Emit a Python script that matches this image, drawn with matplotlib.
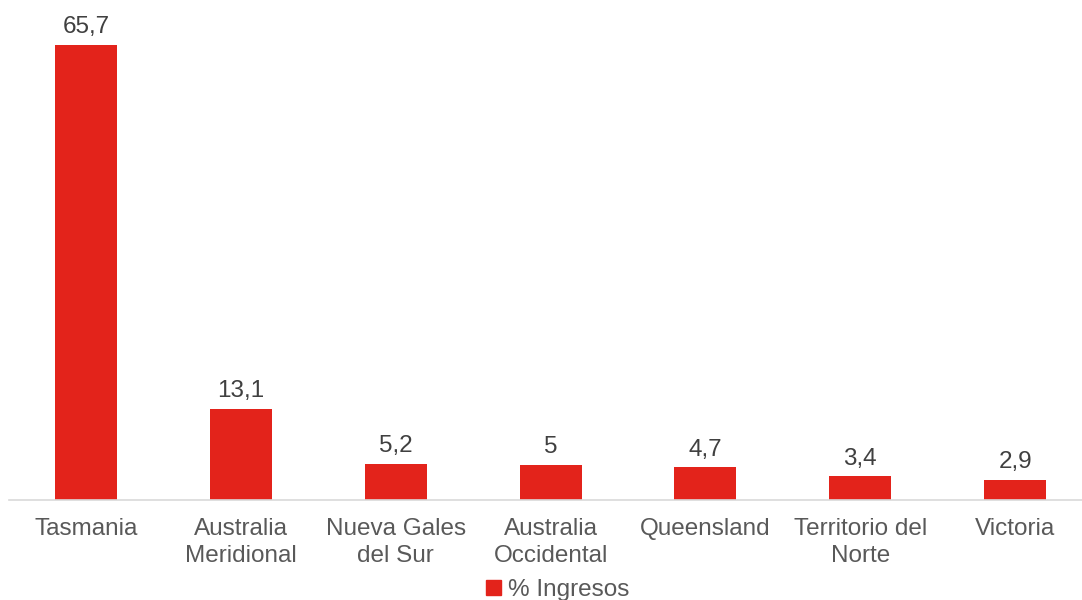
import matplotlib
matplotlib.use("Agg")
import matplotlib.pyplot as plt
from matplotlib.patches import Patch

categories = ["Tasmania", "Australia\nMeridional", "Nueva Gales\ndel Sur", "Australia\nOccidental",
              "Queensland", "Territorio del\nNorte", "Victoria"]
values = [65.7, 13.1, 5.2, 5, 4.7, 3.4, 2.9]
labels = ["65,7", "13,1", "5,2", "5", "4,7", "3,4", "2,9"]
series_name = "% Ingresos"

plt.rcParams['font.family'] = ['Liberation Sans', 'DejaVu Sans']
red = "#E3231B"

fig = plt.figure(figsize=(10.82, 6.0), dpi=100)
ax = fig.add_axes([8.6/1082, 100/600, 1084/1082, 485/600])
x = list(range(len(categories)))
bars = ax.bar(x, values, width=0.4, color=red)
ax.set_xlim(-0.5, len(categories) - 0.5)
ax.set_ylim(0, 70)
for xi, v, lab in zip(x, values, labels):
    ax.text(xi, v + 1.0, lab, ha="center", va="bottom", fontsize=17.5, color="#404040")
ax.set_xticks(x)
ax.set_xticklabels(categories, fontsize=17.5, color="#595959", linespacing=1.3)
ax.tick_params(axis="x", length=0, pad=13)
ax.set_yticks([])
for s in ["top", "right", "left"]:
    ax.spines[s].set_visible(False)
ax.spines["bottom"].set_color("#D9D9D9")
ax.spines["bottom"].set_linewidth(1.2)

fig.legend(handles=[Patch(color=red)], labels=[series_name], loc="center",
           bbox_to_anchor=(558/1082, 1 - 590/600), frameon=False, fontsize=17.5,
           handlelength=0.6, handleheight=0.6, handletextpad=0.3, labelcolor="#595959")

fig.savefig("out.png", dpi=100)
